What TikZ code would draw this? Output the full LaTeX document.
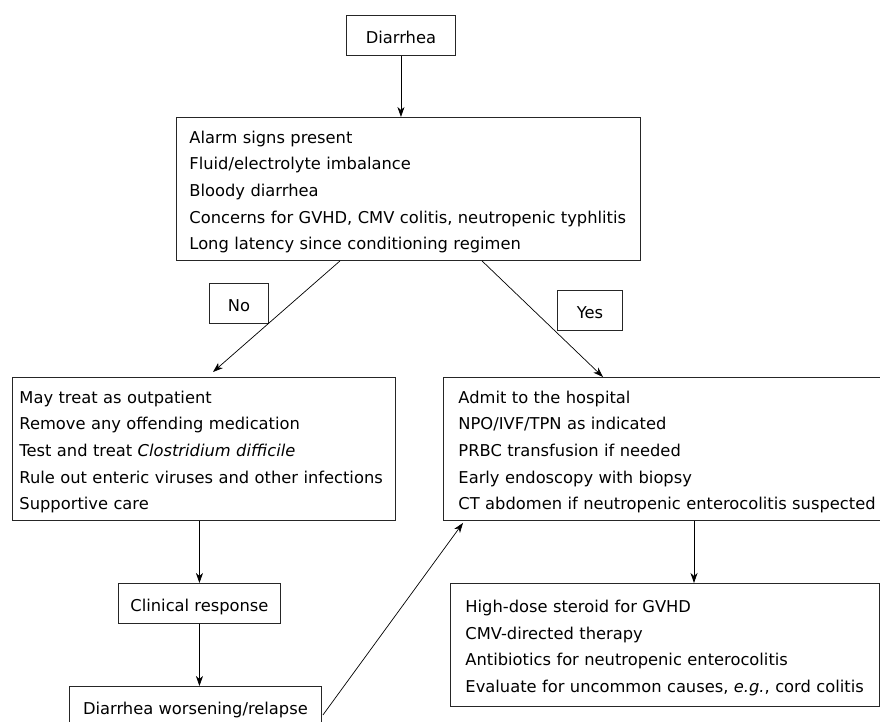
\documentclass[tikz,border=0pt]{standalone}
\usepackage{fontspec}
\setmainfont{DejaVu Sans}
\usepackage{tikz}
\usetikzlibrary{calc}
\usetikzlibrary{arrows.meta}
\newcommand{\flowfont}{\fontsize{16.3}{26.7}\selectfont}
\tikzset{
	every block/.style={
		draw=black!85, line width=0.9pt, anchor=north west, inner ysep=5pt,
		execute at begin node={\rule{0pt}{20.7pt}},
		execute at end node={\rule[-5.5pt]{0pt}{0pt}}
	},
	block/.style={
		every block, align=left, text width=#1
	},
	tag/.style={
		every block, align=center, inner xsep=0pt, minimum width=#1, minimum height=40pt
	},
	flow/.style={
		-{Stealth[length=10pt,width=7pt,inset=3pt]}, line width=0.7pt
	}
}

\begin{document}
\begin{tikzpicture}[x=1pt, y=-1pt, every node/.style={font=\flowfont}]
	\useasboundingbox (0,0) rectangle (880,722);
	\clip (0,0) rectangle (880,722);

	\node[tag=109pt] (Diarrhea) at (346,15) {Diarrhea};
	\node[block=438pt, inner xsep=13pt] (Alarm) at (176,117) {
		Alarm signs present\\
		Fluid/electrolyte imbalance\\
		Bloody diarrhea\\
		Concerns for GVHD, CMV colitis, neutropenic typhlitis\\
		Long latency since conditioning regimen};
	\node[tag=59pt] (No) at (209,283) {No};
	\node[tag=65pt] (Yes) at (557,290) {Yes};
	\node[block=369pt, inner xsep=7pt] (MayTreat) at (12,377) {
		May treat as outpatient\\
		Remove any offending medication\\
		Test and treat \textit{Clostridium difficile}\\
		Rule out enteric viruses and other infections\\
		Supportive care};
	\node[block=422pt, inner xsep=15pt] (Admit) at (443,377) {
		Admit to the hospital\\
		NPO/IVF/TPN as indicated\\
		PRBC transfusion if needed\\
		Early endoscopy with biopsy\\
		CT abdomen if neutropenic enterocolitis suspected};
	\node[tag=162pt] (Clinical) at (118,583) {Clinical response};
	\node[tag=252pt] (Worse) at (69,686) {Diarrhea worsening/relapse};
	\node[block=399pt, inner xsep=15pt, minimum height=123pt] (HighDose) at (450,583) {
		High-dose steroid for GVHD\\
		CMV-directed therapy\\
		Antibiotics for neutropenic enterocolitis\\
		Evaluate for uncommon causes, \textit{e.g.}, cord colitis};

	\draw[flow] (Diarrhea.south) -- (Diarrhea.south |- Alarm.north);
	\draw[flow] ($(Alarm.south west)+(164,0)$) -- ($(MayTreat.north west)+(201,-5)$);
	\draw[flow] ($(Alarm.south west)+(306,0)$) -- ($(Admit.north west)+(160,0)$);
	\draw[flow] (Clinical.north |- MayTreat.south) -- (Clinical.north);
	\draw[flow] (Clinical.south) -- (Clinical.south |- Worse.north);
	\draw[flow] ($(Worse.north east)+(1,29)$) -- ($(Admit.south west)+(20,2)$);
	\draw[flow] ($(Admit.south west)+(251,0)$) -- ($(HighDose.north west)+(244,0)$);
	%\draw[flow] (Admit.south) -- (HighDose.north);
\end{tikzpicture}
\end{document}
